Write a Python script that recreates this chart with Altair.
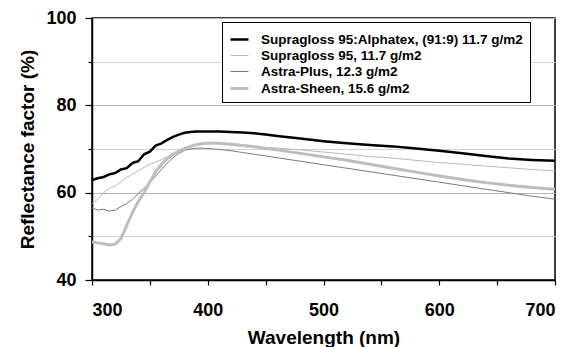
import altair as alt
import pandas as pd

wavelength = [300, 305, 310, 315, 320, 325, 330, 335, 340, 345, 350, 355, 360, 365, 370, 375,
              380, 385, 390, 395, 400, 410, 420, 430, 440, 450, 460, 480, 500, 520, 540, 560,
              580, 600, 620, 640, 660, 680, 700]
alphatex = [62.9, 63.3, 63.6, 64.2, 64.5, 65.3, 65.6, 66.8, 67.2, 68.8, 69.4, 70.8, 71.3, 72.1, 72.8, 73.3,
            73.7, 73.9, 74.0, 74.0, 74.0, 74.0, 73.9, 73.8, 73.6, 73.3, 73.0, 72.4, 71.8, 71.3, 70.9, 70.6,
            70.1, 69.6, 69.0, 68.4, 67.8, 67.5, 67.3]
supragloss = [57.5, 58.5, 60.0, 61.0, 61.5, 62.5, 63.5, 64.2, 65.0, 65.8, 66.5, 67.0, 67.6, 68.2, 69.0, 69.6,
              70.2, 70.8, 71.1, 71.3, 71.4, 71.4, 71.2, 71.0, 70.7, 70.4, 70.2, 69.8, 69.3, 68.8, 68.3, 67.9,
              67.4, 66.9, 66.5, 66.1, 65.7, 65.3, 65.0]
astra_plus = [56.5, 56.0, 56.2, 55.8, 56.0, 56.8, 57.5, 58.5, 59.8, 61.0, 62.3, 63.8, 65.3, 66.8, 68.0, 69.0,
              69.7, 70.0, 70.2, 70.2, 70.1, 69.9, 69.6, 69.2, 68.8, 68.4, 68.0, 67.2, 66.4, 65.6, 64.8, 64.0,
              63.2, 62.4, 61.6, 60.8, 60.0, 59.2, 58.5]
astra_sheen = [48.7, 48.5, 48.3, 48.0, 48.2, 49.5, 52.5, 55.5, 58.0, 60.0, 62.5, 64.8, 66.5, 67.8, 68.8, 69.5,
               70.1, 70.6, 71.0, 71.2, 71.3, 71.3, 71.1, 70.8, 70.5, 70.1, 69.8, 69.0, 68.2, 67.4, 66.5, 65.6,
               64.7, 63.8, 63.0, 62.3, 61.7, 61.2, 60.8]

series_names = ["Supragloss 95:Alphatex, (91:9) 11.7 g/m2", "Supragloss 95, 11.7 g/m2",
                "Astra-Plus, 12.3 g/m2", "Astra-Sheen, 15.6 g/m2"]
series_values = [alphatex, supragloss, astra_plus, astra_sheen]
series_colors = ["#000000", "#b8b8b8", "#7a7a7a", "#bdbdbd"]
series_widths = [2.5, 1.0, 1.0, 3.0]

rows = []
for name, vals in zip(series_names, series_values):
    for w, v in zip(wavelength, vals):
        rows.append({"wl": w, "val": v, "series": name})
df = pd.DataFrame(rows)

legend_kw = dict(title=None, orient="none", legendX=130, legendY=4,
                 strokeColor="black", fillColor="white", padding=7,
                 symbolType="stroke", symbolSize=324, labelFontSize=13.5,
                 labelFontWeight="bold", labelFont="Arial", labelColor="black",
                 rowPadding=0, labelOffset=11, labelLimit=400)

chart = alt.Chart(df).mark_line().encode(
    x=alt.X("wl:Q", scale=alt.Scale(domain=[300, 700], nice=False),
            axis=alt.Axis(title="Wavelength (nm)", values=[300, 350, 400, 450, 500, 550, 600, 650, 700],
                          labelExpr="datum.value % 100 == 0 ? datum.label : ''",
                          grid=False, tickSize=5, labelPadding=16, titlePadding=9,
                          labelFontSize=18, titleFontSize=19)),
    y=alt.Y("val:Q", scale=alt.Scale(domain=[40, 100], nice=False),
            axis=alt.Axis(title="Reflectance factor (%)", values=[40, 50, 60, 70, 80, 90, 100],
                          labelExpr="datum.value % 20 == 0 ? datum.label : ''",
                          grid=True, gridWidth=1,
                          gridColor={"condition": {"test": "datum.value % 20 == 0", "value": "#b4b4b4"},
                                     "value": "#d2d2d2"},
                          tickSize={"condition": {"test": "datum.value % 20 == 0", "value": 7},
                                    "value": 4},
                          labelPadding=9, titlePadding=8,
                          labelFontSize=18, titleFontSize=19)),
    color=alt.Color("series:N", scale=alt.Scale(domain=series_names, range=series_colors),
                    legend=alt.Legend(**legend_kw)),
    strokeWidth=alt.StrokeWidth("series:N",
                                scale=alt.Scale(type="ordinal", domain=series_names, range=series_widths),
                                legend=alt.Legend(**legend_kw)),
    order=alt.Order("wl:Q"),
).properties(
    width=463, height=262,
    autosize=alt.AutoSizeParams(type="none"),
    padding={"left": 92, "top": 18, "right": 21, "bottom": 67},
).configure_view(
    stroke="black", strokeWidth=1.5
).configure_axis(
    labelFont="Liberation Sans", titleFont="Liberation Sans",
    labelFontWeight="bold", titleFontWeight="bold",
    labelColor="black", titleColor="black", domainColor="black", tickColor="black",
    domainWidth=1.5, tickWidth=1.2
)

chart.save("out.html", embed_options={"renderer": "svg", "actions": False})
